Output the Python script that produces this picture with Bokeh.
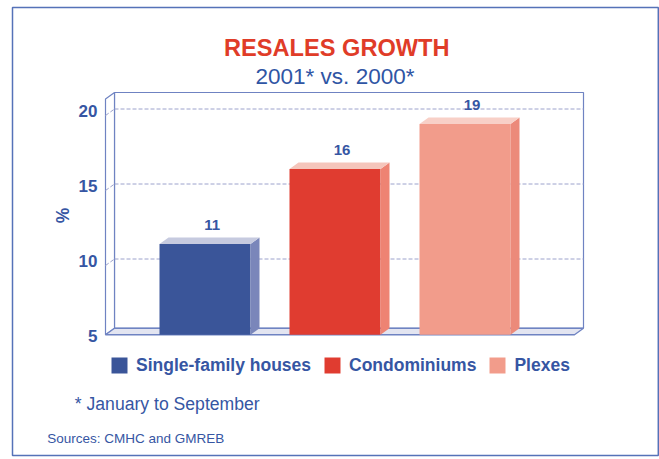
import math
from bokeh.plotting import figure
from bokeh.models import (Range1d, ColumnDataSource, Legend, LegendItem, Label)
from bokeh.core.properties import value
from bokeh.embed import file_html
from bokeh.resources import INLINE

# ---------------- data ----------------
categories = ["Single-family houses", "Condominiums", "Plexes"]
growth = [11, 16, 19]
front_colors = ["#3a5599", "#e03c30", "#f29c8b"]
side_colors = ["#7a86ba", "#ee8373", "#ec8a7a"]
top_colors = ["#c6cadf", "#f5c5bb", "#f8d0c7"]
y_ticks = [5, 10, 15, 20]
y_label = "%"

title_text = "RESALES GROWTH"
subtitle_text = "2001* vs. 2000*"
note_text = "* January to September"
source_text = "Sources: CMHC and GMREB"

FONT = "Liberation Sans"
BLUE_TXT = "#3656a3"
WALL = "#6f83c2"
GRID = "#9ca2cc"

# ---------------- scale: pixel <-> data helpers (used for decoration/text placement) ----
W, H = 659, 459
X0_PX, X_STEP = 204.5, 130.0     # pixel of category 0, pixels per category
Y5_PX, Y_UNIT = 333.5, 15.0      # pixel of value 5, pixels per value unit


def fx(px):
    return (px - X0_PX) / X_STEP


def fy(py):
    return 5 + (Y5_PX - py) / Y_UNIT


p = figure(width=W, height=H, output_backend="svg", toolbar_location=None,
           x_range=Range1d(fx(0), fx(W)), y_range=Range1d(fy(H), fy(0)),
           x_axis_location=None, y_axis_location=None, min_border=0)
p.outline_line_color = None
p.xgrid.visible = False
p.ygrid.visible = False
p.background_fill_color = "white"
p.border_fill_color = "white"

# ---------------- 3D box ----------------
DX = 9 / X_STEP
DY = 6.5 / Y_UNIT
BASE = fy(334.25)
XL = fx(105)
XR = fx(574)
TOP_B = fy(92)
TOP_F = TOP_B - DY

# back wall
p.quad(left=[XL + DX], right=[XR + DX], bottom=[BASE + DY], top=[TOP_B],
       fill_color="white", line_color=WALL, line_width=1.2)
# left wall
p.patch([XL, XL + DX, XL + DX, XL], [BASE, BASE + DY, TOP_B, TOP_F],
        fill_color="white", line_color=WALL, line_width=1.2)
# gridlines
grid_vals = [t for t in y_ticks if t > 5]
p.segment(x0=[XL + DX] * len(grid_vals), x1=[XR + DX] * len(grid_vals),
          y0=grid_vals, y1=grid_vals, line_color=GRID, line_width=1, line_dash="4 2")
p.segment(x0=[XL] * len(grid_vals), x1=[XL + DX] * len(grid_vals),
          y0=[g - DY for g in grid_vals], y1=grid_vals,
          line_color=GRID, line_width=1, line_dash="4 2")
# floor
p.patch([XL, XL + DX, XR + DX, XR], [BASE, BASE + DY, BASE + DY, BASE],
        fill_color="#e3e5f1", line_color=WALL, line_width=1.3)

# value-axis tick labels (on the front edge of the left wall)
p.text(x=[fx(97)] * len(y_ticks), y=y_ticks, text=[str(t) for t in y_ticks],
       y_offset=2, text_align="right", text_baseline="middle",
       text_font=value(FONT), text_font_style="bold", text_font_size="17px",
       text_color=BLUE_TXT)
p.text(x=[fx(62)], y=[fy(215)], text=[y_label], angle=math.pi / 2,
       text_align="center", text_baseline="middle",
       text_font=value(FONT), text_font_style="bold", text_font_size="17.5px",
       text_color=BLUE_TXT)

# ---------------- bars ----------------
BAR_W = 0.7
xpos = list(range(len(categories)))
lefts = [x - BAR_W / 2 for x in xpos]
rights = [x + BAR_W / 2 for x in xpos]

front_src = ColumnDataSource(dict(left=lefts, right=rights, bottom=[BASE] * len(xpos),
                                  top=growth, color=front_colors, cat=categories))
front_r = p.quad(left="left", right="right", bottom="bottom", top="top",
                 fill_color="color", line_color=None, source=front_src)

side_src = ColumnDataSource(dict(
    xs=[[r, r + DX, r + DX, r] for r in rights],
    ys=[[BASE, BASE + DY, v + DY, v] for v in growth],
    color=side_colors))
p.patches("xs", "ys", fill_color="color", line_color=None, source=side_src)

top_src = ColumnDataSource(dict(
    xs=[[l, r, r + DX, l + DX] for l, r in zip(lefts, rights)],
    ys=[[v, v, v + DY, v + DY] for v in growth],
    color=top_colors))
p.patches("xs", "ys", fill_color="color", line_color=None, source=top_src)

# value labels
p.text(x=[x + DX / 2 + 0.02 for x in xpos], y=growth, text=[str(v) for v in growth],
       y_offset=-19, text_align="center", text_baseline="middle",
       text_font=value(FONT), text_font_style="bold", text_font_size="15px",
       text_color=BLUE_TXT)

# ---------------- legend ----------------
items = [LegendItem(label=c, renderers=[front_r], index=i) for i, c in enumerate(categories)]
legend = Legend(items=items, orientation="horizontal", location=(109, H - 365.5 - 10),
                padding=0, margin=0, spacing=11, label_standoff=7,
                glyph_width=20, glyph_height=20,
                label_text_font=FONT, label_text_font_style="bold",
                label_text_font_size="17.5px", label_text_color=BLUE_TXT,
                border_line_color=None, background_fill_alpha=0)
p.add_layout(legend)

# ---------------- texts ----------------
p.add_layout(Label(x=fx(336.3), y=fy(47.3), text=title_text, text_align="center",
                   text_baseline="alphabetic", text_font=FONT, text_font_style="bold",
                   text_font_size="23.6px", text_color="#e03c28"))
p.add_layout(Label(x=fx(334.5), y=fy(75.7), text=subtitle_text, text_align="center",
                   text_baseline="alphabetic", text_font=FONT,
                   text_font_size="22.5px", text_color="#2f55a4"))
p.add_layout(Label(x=fx(74.3), y=fy(403.3), text=note_text, text_align="left",
                   text_baseline="alphabetic", text_font=FONT,
                   text_font_size="17.6px", text_color=BLUE_TXT))
p.add_layout(Label(x=fx(46.7), y=fy(438.3), text=source_text, text_align="left",
                   text_baseline="alphabetic", text_font=FONT,
                   text_font_size="13.5px", text_color=BLUE_TXT))

# outer border
p.quad(left=[fx(12)], right=[fx(657.8)], top=[fy(7)], bottom=[fy(455)],
       fill_color=None, line_color="#5572b8", line_width=1.5)

open("out.html", "w").write(file_html(p, INLINE))
